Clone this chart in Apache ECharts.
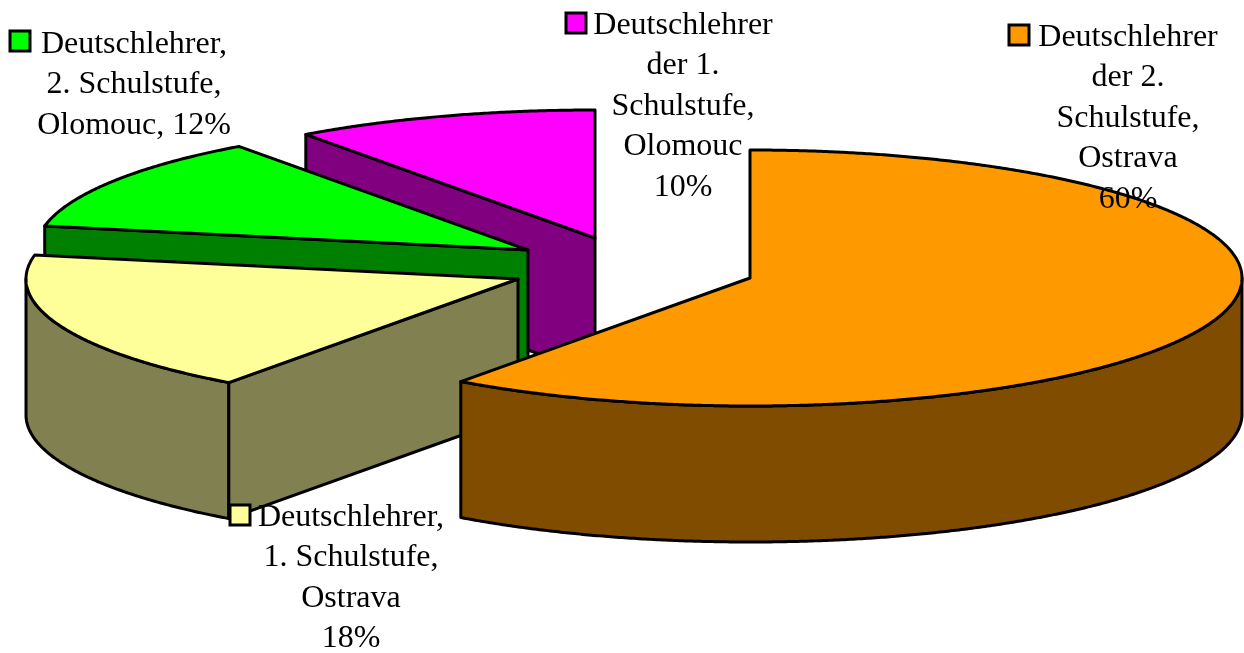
<!DOCTYPE html>
<html>
<head>
<meta charset="utf-8">
<style>html,body{margin:0;padding:0;background:#fff}#c{width:1244px;height:653px}</style>
<script src="https://cdn.jsdelivr.net/npm/echarts@6/dist/echarts.min.js"></script>
</head>
<body>
<div id="c"></div>
<script>
// Data (clockwise from 12 o'clock)
const labels = [
  'Deutschlehrer\nder 2.\nSchulstufe,\nOstrava\n60%',
  'Deutschlehrer,\n1. Schulstufe,\nOstrava\n18%',
  'Deutschlehrer,\n2. Schulstufe,\nOlomouc, 12%',
  'Deutschlehrer\nder 1.\nSchulstufe,\nOlomouc\n10%'
];
const values = [60, 18, 12, 10];
const topColors = ['#FF9900', '#FFFF99', '#00FF00', '#FF00FF'];
const sideColors = ['#804D00', '#808050', '#008000', '#800080'];

// Layout of the exploded 3D pie
const apexX = [750, 518, 528, 595];
const apexY = [278, 279, 250, 238];
const radiusX = 492, radiusY = 128, depth = 136;
const labelX = [1128, 351, 134, 683];
const labelY = [17, 497, 24, 5];
const keyX = [1009, 230, 10, 566];
const keyY = [25, 505, 31, 13];
const keySize = 20;
const lineHeight = 40.5;
const total = values.reduce((a, b) => a + b, 0);

function renderItem(params, api) {
  const i = params.dataIndex;
  const v = api.value(0);
  let before = 0;
  for (let k = 0; k < i; k++) before += values[k];
  const t0 = before / total * Math.PI * 2;
  const t1 = (before + v) / total * Math.PI * 2;
  const cx = apexX[i], cy = apexY[i];
  const pt = (t, d) => [cx + radiusX * Math.sin(t), cy - radiusY * Math.cos(t) + (d || 0)];
  const arc = (a, b, d) => {
    const n = Math.max(2, Math.ceil(Math.abs(b - a) / 0.006));
    const out = [];
    for (let s = 0; s <= n; s++) out.push(pt(a + (b - a) * s / n, d));
    return out;
  };
  const lineStyle = { stroke: '#000', lineWidth: 3, lineJoin: 'round' };
  const base = (values.length - i) * 10;
  const children = [];

  // visible outer wall: front half of the ellipse only
  const wa = Math.max(t0, Math.PI / 2), wb = Math.min(t1, Math.PI * 1.5);
  if (wb > wa) {
    children.push({
      type: 'polygon', z2: base + 1,
      shape: { points: arc(wa, wb, 0).concat(arc(wb, wa, depth)) },
      style: Object.assign({ fill: sideColors[i] }, lineStyle)
    });
  }
  // visible cut face on the leading edge
  if (Math.sin(t0) < -1e-6) {
    children.push({
      type: 'polygon', z2: base + 2,
      shape: { points: [[cx, cy], pt(t0, 0), pt(t0, depth), [cx, cy + depth]] },
      style: Object.assign({ fill: sideColors[i] }, lineStyle)
    });
  }
  // top face
  children.push({
    type: 'polygon', z2: base + 3,
    shape: { points: [[cx, cy]].concat(arc(t0, t1, 0)) },
    style: Object.assign({ fill: topColors[i] }, lineStyle)
  });
  // data label with its legend key
  children.push({
    type: 'rect', z2: 200,
    shape: { x: keyX[i], y: keyY[i], width: keySize, height: keySize },
    style: { fill: topColors[i], stroke: '#000', lineWidth: 3 }
  });
  children.push({
    type: 'text', z2: 201,
    x: labelX[i], y: labelY[i],
    style: {
      text: labels[i],
      fill: '#000',
      font: '32px "Liberation Serif", serif',
      lineHeight: lineHeight,
      align: 'center',
      verticalAlign: 'top'
    }
  });
  return { type: 'group', children };
}

const chart = echarts.init(document.getElementById('c'), null, { renderer: 'canvas' });
chart.setOption({
  animation: false,
  backgroundColor: '#ffffff',
  series: [{
    type: 'custom',
    coordinateSystem: 'none',
    renderItem: renderItem,
    data: values.map(v => [v]),
    silent: true
  }]
});
</script>
</body>
</html>
